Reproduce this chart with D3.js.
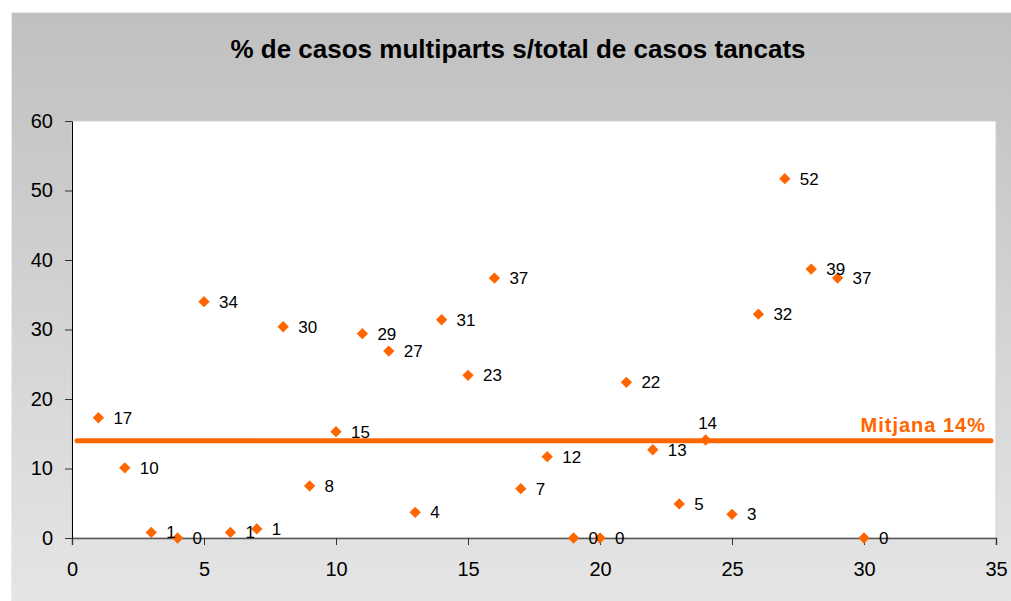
<!DOCTYPE html>
<html>
<head>
<meta charset="utf-8">
<script src="https://cdn.jsdelivr.net/npm/d3@7"></script>
<style>
  body { margin: 0; background: #fff; }
  svg { display: block; font-family: "Liberation Sans", Arial, sans-serif; }
</style>
</head>
<body>
<div id="chart"></div>
<script>
// Data
const caseIds = [1, 2, 3, 4, 5, 6, 7, 8, 9, 10, 11, 12, 13, 14, 15, 16, 17, 18, 19, 20, 21, 22, 23, 24, 25, 26, 27, 28, 29, 30];
const pctValues = [17.3, 10.1, 0.8, 0, 34, 0.8, 1.3, 30.4, 7.5, 15.3, 29.4, 26.9, 3.7, 31.4, 23.4, 37.4, 7.1, 11.7, 0, 0, 22.4, 12.7, 4.9, 14.1, 3.4, 32.2, 51.7, 38.7, 37.4, 0];
const pctLabels = ['17', '10', '1', '0', '34', '1', '1', '30', '8', '15', '29', '27', '4', '31', '23', '37', '7', '12', '0', '0', '22', '13', '5', '14', '3', '32', '52', '39', '37', '0'];
const labelAbove = [24];
const meanValue = 14;
const meanLabel = 'Mitjana 14%';
const titleText = '% de casos multiparts s/total de casos tancats';
const xTicks = [0, 5, 10, 15, 20, 25, 30, 35];
const yTicks = [0, 10, 20, 30, 40, 50, 60];

const W = 1011, H = 601;
const margin = { left: 72, right: 15, top: 121, bottom: 63 };
const width = W - margin.left - margin.right;
const height = H - margin.top - margin.bottom;
const orange = '#ff6600';

const svg = d3.select('#chart').append('svg')
  .attr('width', W)
  .attr('height', H);

// Background gradient
const grad = svg.append('defs').append('linearGradient')
  .attr('id', 'bg').attr('x1', 0).attr('y1', 0).attr('x2', 0).attr('y2', 1);
grad.append('stop').attr('offset', '0%').attr('stop-color', '#c0c0c0');
grad.append('stop').attr('offset', '100%').attr('stop-color', '#e5e5e5');

svg.append('rect')
  .attr('x', 11).attr('y', 12)
  .attr('width', W - 11).attr('height', H - 12)
  .attr('fill', 'url(#bg)');
svg.append('line')
  .attr('x1', 11).attr('x2', W).attr('y1', 12.5).attr('y2', 12.5)
  .attr('stroke', '#e8e8e8');
svg.append('line')
  .attr('x1', 11.5).attr('x2', 11.5).attr('y1', 12).attr('y2', H)
  .attr('stroke', '#ececec');

// Title
svg.append('text')
  .attr('x', 518)
  .attr('y', 58)
  .attr('text-anchor', 'middle')
  .attr('font-size', '26px')
  .attr('font-weight', 'bold')
  .attr('fill', '#000')
  .text(titleText);

const g = svg.append('g')
  .attr('transform', 'translate(' + margin.left + ',' + margin.top + ')');

// Plot area
g.append('rect')
  .attr('width', width)
  .attr('height', height)
  .attr('fill', '#fff')
  .attr('stroke', '#d0d0d0');

// Scales
const x = d3.scaleLinear().domain([0, 35]).range([0, width]);
const y = d3.scaleLinear().domain([0, 60]).range([height, 0]);

// Axes
const xAxis = g.append('g')
  .attr('transform', 'translate(0,' + height + ')')
  .call(d3.axisBottom(x).tickValues(xTicks).tickSize(7).tickPadding(17).tickFormat(d3.format('d')));
xAxis.select('.domain').attr('stroke', '#555').attr('stroke-width', 1.5);
xAxis.selectAll('.tick line').attr('stroke', '#333');
xAxis.selectAll('.tick text').attr('font-size', '20px').attr('fill', '#000');

const yAxis = g.append('g')
  .call(d3.axisLeft(y).tickValues(yTicks).tickSize(7).tickPadding(12).tickSizeOuter(0));
yAxis.select('.domain').attr('stroke', '#000');
yAxis.selectAll('.tick line').attr('stroke', '#333');
yAxis.selectAll('.tick text').attr('font-size', '20px').attr('fill', '#000');

// Mean line
g.append('line')
  .attr('x1', 5)
  .attr('x2', width - 5)
  .attr('y1', y(meanValue))
  .attr('y2', y(meanValue))
  .attr('stroke', orange)
  .attr('stroke-width', 5)
  .attr('stroke-linecap', 'round');

g.append('text')
  .attr('x', width - 10)
  .attr('y', y(meanValue) - 9)
  .attr('text-anchor', 'end')
  .attr('font-size', '20px')
  .attr('letter-spacing', '1px')
  .attr('font-weight', 'bold')
  .attr('fill', orange)
  .text(meanLabel);

// Points
const data = caseIds.map((id, i) => ({ id: id, value: pctValues[i], label: pctLabels[i] }));

g.selectAll('.point')
  .data(data)
  .enter()
  .append('rect')
  .attr('class', 'point')
  .attr('x', -4)
  .attr('y', -4)
  .attr('width', 8)
  .attr('height', 8)
  .attr('fill', orange)
  .attr('transform', d => 'translate(' + x(d.id) + ',' + y(d.value) + ') rotate(45)');

g.selectAll('.label')
  .data(data)
  .enter()
  .append('text')
  .attr('class', 'label')
  .attr('x', d => labelAbove.includes(d.id) ? x(d.id) + 2 : x(d.id) + 15)
  .attr('y', d => labelAbove.includes(d.id) ? y(d.value) - 11 : y(d.value) + 6)
  .attr('text-anchor', d => labelAbove.includes(d.id) ? 'middle' : 'start')
  .attr('font-size', '17px')
  .attr('fill', '#000')
  .text(d => d.label);
</script>
</body>
</html>
